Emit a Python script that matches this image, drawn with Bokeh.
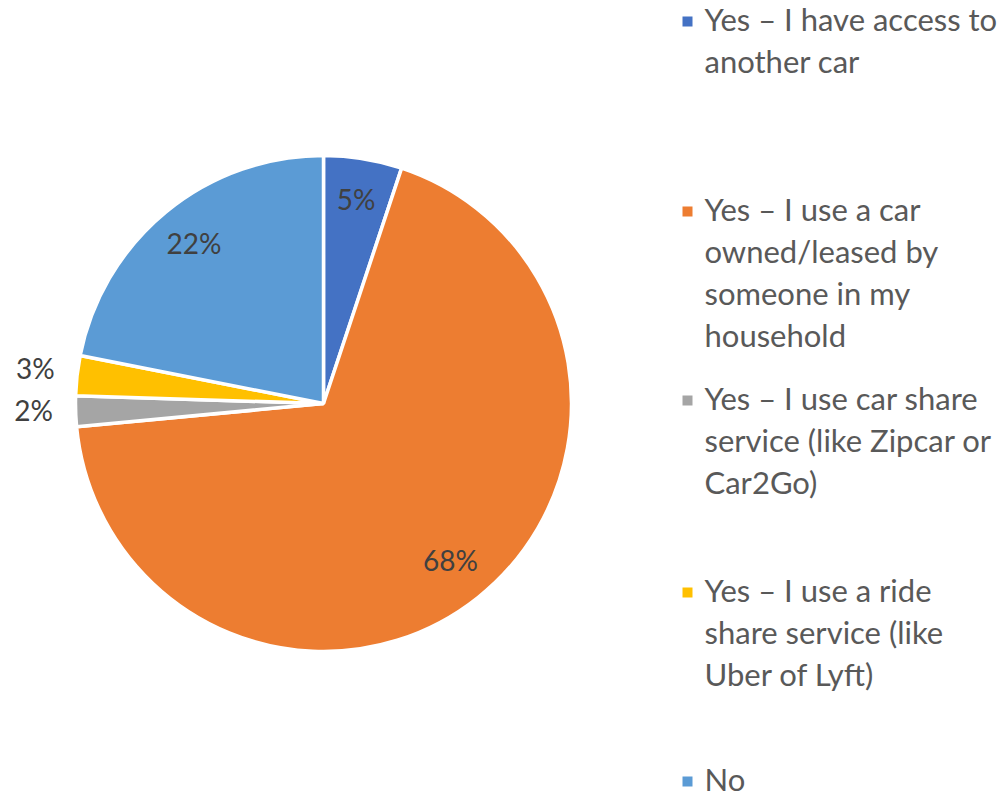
import math
from bokeh.plotting import figure
from bokeh.models import Range1d, ColumnDataSource
from bokeh.core.properties import value
from bokeh.embed import file_html
from bokeh.resources import INLINE

categories = [
    "Yes – I have access to another car",
    "Yes – I use a car owned/leased by someone in my household",
    "Yes – I use car share service (like Zipcar or Car2Go)",
    "Yes – I use a ride share service (like Uber of Lyft)",
    "No",
]
legend_lines = [
    ["Yes – I have access to", "another car"],
    ["Yes – I use a car", "owned/leased by", "someone in my", "household"],
    ["Yes – I use car share", "service (like Zipcar or", "Car2Go)"],
    ["Yes – I use a ride", "share service (like", "Uber of Lyft)"],
    ["No"],
]
shares = [5.1, 68.4, 2.0, 2.6, 21.9]
colors = ["#4472C4", "#ED7D31", "#A5A5A5", "#FFC000", "#5B9BD5"]

W, H = 1000, 798
p = figure(width=W, height=H, output_backend="svg", toolbar_location=None,
           x_range=Range1d(0, W), y_range=Range1d(798 - H, 798),
           min_border=0, outline_line_color=None)
p.axis.visible = False
p.grid.visible = False


def sy(y):
    # screen-like vertical position -> data y
    return 798 - y


cx, cy, R = 323, sy(403), 248
total = sum(shares)
starts, ends, lx, ly, ltxt = [], [], [], [], []
cum = 0.0
for s in shares:
    a0 = math.pi / 2 - 2 * math.pi * cum / total
    a1 = math.pi / 2 - 2 * math.pi * (cum + s) / total
    starts.append(a1)
    ends.append(a0)
    mid = (a0 + a1) / 2
    r = 204 if s >= 4 else 290
    lx.append(cx + r * math.cos(mid))
    ly.append(cy + r * math.sin(mid) + 3)
    ltxt.append(f"{round(s)}%")
    cum += s

src = ColumnDataSource(dict(start=starts, end=ends, color=colors))
p.wedge(x=cx, y=cy, radius=R, start_angle="start", end_angle="end",
        fill_color="color", line_color="white", line_width=3.5, source=src)

p.text(x=lx, y=ly, text=ltxt, text_font=value("Lato"), text_font_size="28px",
       text_color="#404040", text_align="center", text_baseline="middle")

# legend
item_centers = [21, 211, 400, 592, 781]
line_gap = 42
for i, lines in enumerate(legend_lines):
    c0 = item_centers[i]
    p.scatter(x=[687], y=[sy(c0)], marker="square", size=10,
              fill_color=colors[i], line_color=None)
    for j, t in enumerate(lines):
        p.text(x=[704], y=[sy(c0 - 3 + j * line_gap)], text=[t],
               text_font=value("Lato"), text_font_size="31px",
               text_color="#595959", text_align="left", text_baseline="middle")

open("out.html", "w").write(file_html(p, INLINE))
